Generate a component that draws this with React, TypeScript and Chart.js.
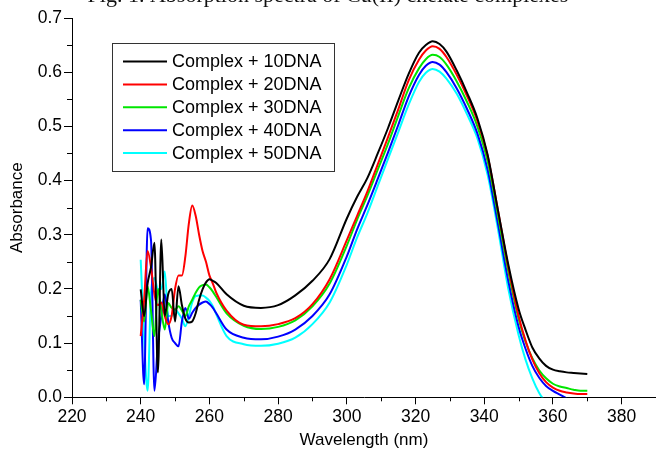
import React, { useEffect, useRef } from 'react';
import { Chart, registerables } from 'chart.js';

Chart.register(...registerables);

const TITLE = 'Fig. 1. Absorption spectra of Cu(II) chelate complexes';
const X_TITLE = 'Wavelength (nm)';
const Y_TITLE = 'Absorbance';

const SERIES_LABELS = [
  'Complex + 10DNA',
  'Complex + 20DNA',
  'Complex + 30DNA',
  'Complex + 40DNA',
  'Complex + 50DNA',
];
const SERIES_COLORS = ['#000000', '#ff0000', '#00e600', '#0000ff', '#00ffff'];

const WAVELENGTHS = [
  240, 241, 242, 243, 244, 245, 246, 247, 248, 249, 250, 251, 252, 253, 254, 255, 256, 257, 258, 259, 260, 261,
  262, 265, 270, 275, 280, 285, 290, 295, 300,
  303, 306, 309, 312, 315, 318, 321,
  323, 325, 327, 329,
  332, 335, 338, 341, 344, 347, 350,
  352, 354, 356, 358, 360, 362, 364, 366, 368, 370,
];

const DNA10 = [
  0.199, 0.15, 0.21, 0.24, 0.285, 0.046, 0.291, 0.15, 0.19, 0.2, 0.14, 0.205, 0.17, 0.145, 0.138, 0.14, 0.155, 0.18, 0.199, 0.212, 0.218, 0.215,
  0.211, 0.19, 0.169, 0.165, 0.17, 0.188, 0.215, 0.255, 0.33,
  0.37, 0.405, 0.45, 0.497, 0.548, 0.597, 0.636,
  0.65, 0.657, 0.652, 0.638,
  0.603, 0.562, 0.515, 0.447, 0.345, 0.245, 0.163,
  0.125, 0.092, 0.072, 0.058, 0.051, 0.048, 0.046, 0.045, 0.044, 0.043,
];
const DNA20 = [
  0.113, 0.18, 0.27, 0.24, 0.19, 0.17, 0.175, 0.15, 0.135, 0.15, 0.2, 0.225, 0.225, 0.26, 0.32, 0.354, 0.335, 0.3, 0.27, 0.25, 0.225, 0.21,
  0.193, 0.16, 0.134, 0.131, 0.135, 0.146, 0.172, 0.218, 0.29,
  0.335, 0.38, 0.43, 0.48, 0.532, 0.585, 0.623,
  0.64, 0.648, 0.643, 0.628,
  0.595, 0.556, 0.51, 0.445, 0.345, 0.24, 0.15,
  0.105, 0.07, 0.045, 0.028, 0.018, 0.012, 0.009, 0.007, 0.006, 0.006,
];
const DNA30 = [
  0.18, 0.14, 0.205, 0.16, 0.113, 0.2, 0.16, 0.125, 0.174, 0.165, 0.162, 0.168, 0.16, 0.15, 0.168, 0.18, 0.193, 0.203, 0.207, 0.208, 0.203, 0.195,
  0.185, 0.155, 0.132, 0.126, 0.13, 0.142, 0.168, 0.21, 0.28,
  0.328, 0.372, 0.42, 0.468, 0.52, 0.57, 0.607,
  0.624, 0.632, 0.628, 0.614,
  0.583, 0.545, 0.5, 0.435, 0.335, 0.232, 0.145,
  0.103, 0.072, 0.05, 0.035, 0.025, 0.02, 0.017, 0.014, 0.012, 0.012,
];
const DNA40 = [
  0.18, 0.024, 0.312, 0.29, 0.012, 0.1, 0.15, 0.19, 0.14, 0.11, 0.1, 0.094, 0.14, 0.165, 0.145, 0.156, 0.165, 0.171, 0.175, 0.177, 0.172, 0.165,
  0.155, 0.125, 0.11, 0.107, 0.112, 0.125, 0.15, 0.19, 0.26,
  0.31, 0.355, 0.403, 0.452, 0.503, 0.555, 0.595,
  0.612, 0.619, 0.614, 0.6,
  0.57, 0.532, 0.487, 0.42, 0.32, 0.215, 0.13,
  0.09, 0.058, 0.036, 0.021, 0.012, 0.005, -0.002, null, null, null,
];
const DNA50 = [
  0.254, 0.107, 0.012, 0.193, 0.22, 0.2, 0.2, 0.232, 0.15, 0.15, 0.162, 0.155, 0.145, 0.131, 0.15, 0.175, 0.187, 0.188, 0.188, 0.184, 0.178, 0.168,
  0.153, 0.113, 0.098, 0.095, 0.099, 0.11, 0.135, 0.175, 0.245,
  0.295, 0.34, 0.39, 0.44, 0.49, 0.54, 0.582,
  0.599, 0.606, 0.601, 0.588,
  0.56, 0.522, 0.478, 0.41, 0.31, 0.2, 0.115,
  0.07, 0.035, 0.008, -0.01, null, null, null, null, null, null,
];
const SERIES_VALUES = [DNA10, DNA20, DNA30, DNA40, DNA50];

const X_MIN = 220;
const X_MAX = 390;
const X_MAJOR = 20;
const X_MINOR = 10;
const Y_MIN = 0;
const Y_MAX = 0.7;
const Y_MAJOR = 0.1;

const SANS = "'Liberation Sans', Arial, Helvetica, sans-serif";
const SERIF = "'Liberation Serif', 'Times New Roman', serif";

const W = 656;
const H = 472;
const SHIFT = 17;

const minorTicksPlugin = {
  id: 'minorTicks',
  afterDraw(chart: any) {
    const { ctx, chartArea, scales } = chart;
    const xs = scales.x;
    const ys = scales.y;
    ctx.save();
    ctx.strokeStyle = '#000';
    ctx.lineWidth = 1;
    ctx.beginPath();
    for (let v = X_MIN + X_MINOR; v <= X_MAX + 1e-9; v += X_MAJOR) {
      const px = Math.round(xs.getPixelForValue(v)) + 0.5;
      ctx.moveTo(px, chartArea.bottom);
      ctx.lineTo(px, chartArea.bottom + 4);
    }
    for (let v = Y_MIN + Y_MAJOR / 2; v < Y_MAX; v += Y_MAJOR) {
      const py = Math.round(ys.getPixelForValue(v)) + 0.5;
      ctx.moveTo(chartArea.left - 5, py);
      ctx.lineTo(chartArea.left, py);
    }
    ctx.stroke();
    ctx.restore();
  },
};

const boxedLegendPlugin = {
  id: 'boxedLegend',
  afterDraw(chart: any) {
    const { ctx, chartArea } = chart;
    const left = chartArea.left + 40;
    const top = chartArea.top + 25;
    const width = 222;
    const height = 128;
    ctx.save();
    ctx.strokeStyle = '#333';
    ctx.lineWidth = 1;
    ctx.strokeRect(Math.round(left) + 0.5, Math.round(top) + 0.5, width, height);
    ctx.font = `18px ${SANS}`;
    ctx.textBaseline = 'middle';
    ctx.textAlign = 'left';
    chart.data.datasets.forEach((ds: any, i: number) => {
      const y = top + 18.5 + i * 22.9;
      ctx.strokeStyle = ds.borderColor;
      ctx.lineWidth = 2;
      ctx.beginPath();
      ctx.moveTo(left + 11, y);
      ctx.lineTo(left + 55, y);
      ctx.stroke();
      ctx.fillStyle = '#000';
      ctx.fillText(ds.label, left + 60, y + 1);
    });
    ctx.restore();
  },
};

export default function App() {
  const canvasRef = useRef<HTMLCanvasElement | null>(null);

  useEffect(() => {
    if (!canvasRef.current) return;
    const datasets = SERIES_LABELS.map((label, i) => ({
      label,
      data: WAVELENGTHS.map((x, j) => ({ x, y: SERIES_VALUES[i][j] })),
      borderColor: SERIES_COLORS[i],
      backgroundColor: SERIES_COLORS[i],
      borderWidth: 2,
      pointRadius: 0,
      cubicInterpolationMode: 'monotone' as const,
      spanGaps: false,
      fill: false,
    }));

    const chart = new Chart(canvasRef.current, {
      type: 'line',
      data: { datasets },
      plugins: [minorTicksPlugin, boxedLegendPlugin],
      options: {
        animation: false,
        responsive: false,
        maintainAspectRatio: false,
        devicePixelRatio: 1,
        layout: { padding: 0 },
        plugins: {
          legend: { display: false },
          tooltip: { enabled: false },
          title: {
            display: true,
            text: TITLE,
            color: '#111',
            font: { family: SERIF, size: 22, weight: 'normal' },
            padding: { top: 0, bottom: 4.6 + (SHIFT - 13) },
          },
        },
        scales: {
          x: {
            type: 'linear',
            min: X_MIN,
            max: X_MAX,
            afterFit(scale: any) {
              scale.height = 57.7;
            },
            afterBuildTicks(scale: any) {
              const ticks = [];
              for (let v = X_MIN; v <= X_MAX; v += X_MAJOR) ticks.push({ value: v });
              scale.ticks = ticks;
            },
            ticks: {
              autoSkip: false,
              maxRotation: 0,
              color: '#000',
              padding: 2,
              font: { family: SANS, size: 17.5 },
              callback: (v: any) => String(v),
            },
            grid: {
              drawOnChartArea: false,
              drawTicks: true,
              tickLength: 7,
              tickColor: '#000',
            },
            border: { display: true, color: '#000', width: 1 },
            title: {
              display: true,
              text: X_TITLE,
              color: '#000',
              font: { family: SANS, size: 17 },
              padding: { top: 0, bottom: 4 },
            },
          },
          y: {
            type: 'linear',
            min: Y_MIN,
            max: Y_MAX,
            afterFit(scale: any) {
              scale.width = 72;
            },
            ticks: {
              stepSize: Y_MAJOR,
              color: '#000',
              padding: 2,
              font: { family: SANS, size: 17.5 },
              callback: (v: any) => Number(v).toFixed(1),
            },
            grid: {
              drawOnChartArea: false,
              drawTicks: true,
              tickLength: 8,
              tickColor: '#000',
            },
            border: { display: true, color: '#000', width: 1 },
            title: {
              display: true,
              text: Y_TITLE,
              color: '#000',
              font: { family: SANS, size: 17 },
              padding: { top: 7, bottom: 0 },
            },
          },
        },
      },
    });
    return () => chart.destroy();
  }, []);

  return (
    <div style={{ position: 'fixed', left: 0, top: -SHIFT, width: W, height: H, background: '#fff' }}>
      <canvas ref={canvasRef} width={W} height={H} style={{ width: W, height: H, display: 'block' }} />
    </div>
  );
}
